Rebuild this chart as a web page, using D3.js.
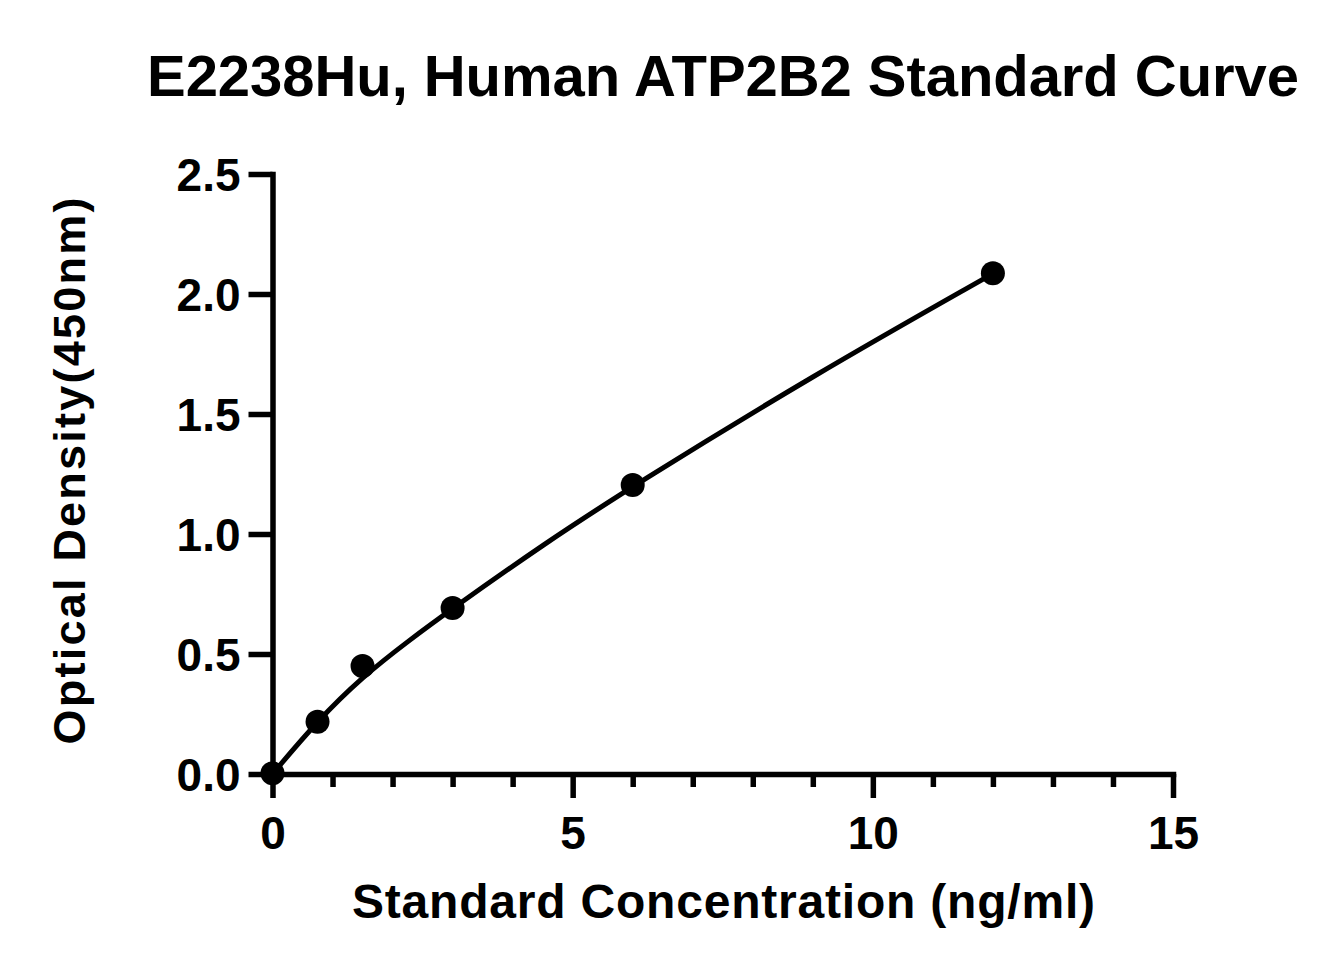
<!DOCTYPE html>
<html>
<head>
<meta charset="utf-8">
<script src="https://cdn.jsdelivr.net/npm/d3@7"></script>
<style>
  body { margin: 0; background: #fff; }
  text { font-family: "Liberation Sans", Arial, sans-serif; font-weight: bold; fill: #000; }
</style>
</head>
<body>
<div id="chart"></div>
<script>
// standard points
const conc = [0, 0.75, 1.5, 3, 6, 12];
const od = [0.003, 0.218, 0.45, 0.692, 1.204, 2.086];

// fitted curve
const fitConc = [0, 0.75, 1.5, 2.25, 3, 4.5, 6, 9, 12];
const fitOd = [0, 0.222, 0.405, 0.552, 0.69, 0.955, 1.2, 1.66, 2.085];

const yTicks = [0, 0.5, 1.0, 1.5, 2.0, 2.5];
const xMajor = [0, 5, 10, 15];
const xMinor = [1, 2, 3, 4, 6, 7, 8, 9, 11, 12, 13, 14];

const titleText = "E2238Hu, Human ATP2B2 Standard Curve";
const xLabel = "Standard Concentration (ng/ml)";
const yLabel = "Optical Density(450nm)";

const width = 1344, height = 975;

const svg = d3.select("#chart").append("svg")
  .attr("width", width)
  .attr("height", height);

svg.append("rect").attr("width", width).attr("height", height).attr("fill", "#fff");

const x = d3.scaleLinear().domain([0, 15]).range([272.5, 1173]);
const y = d3.scaleLinear().domain([0, 2.5]).range([774, 174]);

//title
svg.append("text")
  .attr("x", 723)
  .attr("y", 96)
  .attr("text-anchor", "middle")
  .attr("textLength", 1152)
  .attr("lengthAdjust", "spacing")
  .style("font-size", "58px")
  .text(titleText);

//axes
const axisStyle = (g) => {
  g.select(".domain").attr("stroke-width", 5.5).attr("stroke", "#000").attr("stroke-linecap", "square");
  g.selectAll(".tick line").attr("stroke-width", 5.5).attr("stroke", "#000");
  g.selectAll(".tick text").style("font-size", "46px").attr("fill", "#000");
};

// minor x ticks
svg.append("g")
  .attr("transform", `translate(0,${y(0)})`)
  .call(d3.axisBottom(x).tickValues(xMinor).tickSize(13).tickSizeOuter(0).tickFormat(""))
  .call(axisStyle)
  .call((g) => g.select(".domain").remove());

svg.append("g")
  .attr("transform", `translate(0,${y(0)})`)
  .call(d3.axisBottom(x).tickValues(xMajor).tickSize(24).tickSizeOuter(0).tickPadding(18).tickFormat(d3.format("d")))
  .call(axisStyle);

svg.append("g")
  .attr("transform", `translate(${x(0)},0)`)
  .call(d3.axisLeft(y).tickValues(yTicks).tickSize(24).tickSizeOuter(0).tickPadding(8).tickFormat(d3.format(".1f")))
  .call(axisStyle)
  .call((g) => g.selectAll(".tick text").attr("dy", "0.36em"));

//axis labels
svg.append("text")
  .attr("x", 723.5)
  .attr("y", 918)
  .attr("text-anchor", "middle")
  .attr("textLength", 743)
  .attr("lengthAdjust", "spacing")
  .style("font-size", "48px")
  .text(xLabel);

svg.append("text")
  .attr("transform", `translate(85,471) rotate(-90)`)
  .attr("text-anchor", "middle")
  .attr("textLength", 547)
  .attr("lengthAdjust", "spacing")
  .style("font-size", "45px")
  .text(yLabel);

//curve
const fitData = fitConc.map((c, i) => ({ c, v: fitOd[i] }));
svg.append("path")
  .datum(fitData)
  .attr("fill", "none")
  .attr("stroke", "#000")
  .attr("stroke-width", 5)
  .attr("d", d3.line().x((d) => x(d.c)).y((d) => y(d.v)).curve(d3.curveBasis));

//points
svg.selectAll("circle.pt")
  .data(conc.map((c, i) => ({ c, v: od[i] })))
  .join("circle")
  .attr("class", "pt")
  .attr("cx", (d) => x(d.c))
  .attr("cy", (d) => y(d.v))
  .attr("r", 12)
  .attr("fill", "#000");
</script>
</body>
</html>
